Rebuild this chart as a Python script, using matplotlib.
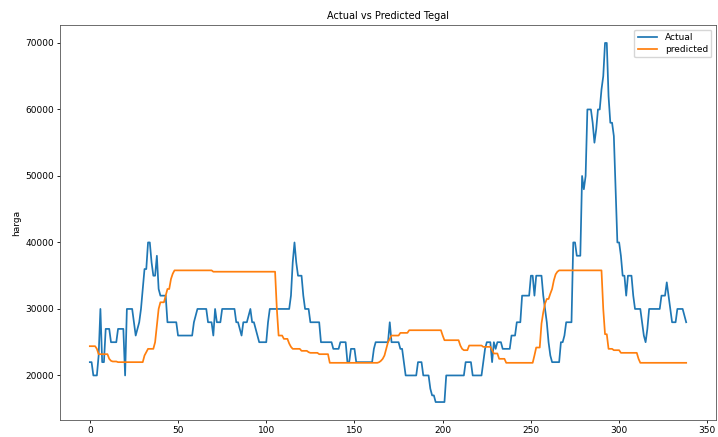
import matplotlib.pyplot as plt
import numpy as np

# Values (daily price, "harga")
actual = [
    22000, 22000, 20000, 20000, 20000, 23000, 30000, 22000, 22000, 27000,
    27000, 27000, 25000, 25000, 25000, 25000, 27000, 27000, 27000, 27000,
    20000, 30000, 30000, 30000, 30000, 28000, 26000, 27000, 28000, 30000,
    33000, 36000, 36000, 40000, 40000, 37000, 35000, 35000, 38000, 33000,
    32000, 32000, 32000, 32000, 28000, 28000, 28000, 28000, 28000, 28000,
    26000, 26000, 26000, 26000, 26000, 26000, 26000, 26000, 26000, 28000,
    29000, 30000, 30000, 30000, 30000, 30000, 30000, 28000, 28000, 28000,
    26000, 30000, 28000, 28000, 28000, 30000, 30000, 30000, 30000, 30000,
    30000, 30000, 30000, 28000, 28000, 27000, 26000, 28000, 28000, 28000,
    29000, 30000, 28000, 28000, 27000, 26000, 25000, 25000, 25000, 25000,
    25000, 28000, 30000, 30000, 30000, 30000, 30000, 30000, 30000, 30000,
    30000, 30000, 30000, 30000, 32000, 37000, 40000, 37000, 35000, 35000,
    35000, 32000, 30000, 30000, 30000, 28000, 28000, 28000, 28000, 28000,
    28000, 25000, 25000, 25000, 25000, 25000, 25000, 25000, 24000, 24000,
    24000, 24000, 25000, 25000, 25000, 25000, 22000, 22000, 24000, 24000,
    24000, 22000, 22000, 22000, 22000, 22000, 22000, 22000, 22000, 22000,
    22000, 24000, 25000, 25000, 25000, 25000, 25000, 25000, 25000, 25000,
    28000, 25000, 25000, 25000, 25000, 25000, 24000, 24000, 22000, 20000,
    20000, 20000, 20000, 20000, 20000, 20000, 22000, 22000, 22000, 20000,
    20000, 20000, 20000, 18000, 17000, 17000, 16000, 16000, 16000, 16000,
    16000, 16000, 20000, 20000, 20000, 20000, 20000, 20000, 20000, 20000,
    20000, 20000, 20000, 22000, 22000, 22000, 22000, 20000, 20000, 20000,
    20000, 20000, 20000, 22000, 24000, 25000, 25000, 25000, 22000, 25000,
    24000, 25000, 25000, 25000, 24000, 24000, 24000, 24000, 24000, 26000,
    26000, 26000, 28000, 28000, 28000, 32000, 32000, 32000, 32000, 32000,
    35000, 35000, 32000, 35000, 35000, 35000, 35000, 32000, 30000, 28000,
    25000, 23000, 22000, 22000, 22000, 22000, 22000, 25000, 25000, 26000,
    28000, 28000, 28000, 28000, 40000, 40000, 38000, 38000, 38000, 50000,
    48000, 50000, 60000, 60000, 60000, 58000, 55000, 57000, 60000, 60000,
    63000, 65000, 70000, 70000, 62000, 58000, 58000, 56000, 48000, 40000,
    40000, 38000, 35000, 35000, 32000, 35000, 35000, 35000, 32000, 30000,
    30000, 30000, 30000, 28000, 26000, 25000, 27000, 30000, 30000, 30000,
    30000, 30000, 30000, 30000, 32000, 32000, 32000, 34000, 32000, 30000,
    28000, 28000, 28000, 30000, 30000, 30000, 30000, 29000, 28000,
]

predicted = [
    24400, 24400, 24400, 24400, 24000, 23200, 23200, 23200, 23200, 23200,
    23200, 22500, 22200, 22100, 22100, 22100, 22000, 22000, 22000, 22000,
    22000, 22000, 22000, 22000, 22000, 22000, 22000, 22000, 22000, 22000,
    22000, 23000, 23500, 24000, 24000, 24000, 24000, 25000, 27500, 30000,
    31000, 31000, 31000, 32000, 33000, 33000, 34500, 35300, 35800, 35800,
    35800, 35800, 35800, 35800, 35800, 35800, 35800, 35800, 35800, 35800,
    35800, 35800, 35800, 35800, 35800, 35800, 35800, 35800, 35800, 35800,
    35600, 35600, 35600, 35600, 35600, 35600, 35600, 35600, 35600, 35600,
    35600, 35600, 35600, 35600, 35600, 35600, 35600, 35600, 35600, 35600,
    35600, 35600, 35600, 35600, 35600, 35600, 35600, 35600, 35600, 35600,
    35600, 35600, 35600, 35600, 35600, 35600, 30000, 26000, 26000, 26000,
    25500, 25500, 25500, 24800, 24300, 24000, 24000, 24000, 24000, 24000,
    23700, 23700, 23700, 23700, 23500, 23400, 23400, 23400, 23400, 23400,
    23200, 23200, 23200, 23200, 23200, 23200, 21900, 21900, 21900, 21900,
    21900, 21900, 21900, 21900, 21900, 21900, 21900, 21900, 21900, 21900,
    21900, 21900, 21900, 21900, 21900, 21900, 21900, 21900, 21900, 21900,
    21900, 21900, 21900, 21900, 22000, 22200, 22500, 23000, 24000, 25000,
    25500, 26000, 26000, 26000, 26000, 26000, 26400, 26400, 26400, 26400,
    26400, 26800, 26800, 26800, 26800, 26800, 26800, 26800, 26800, 26800,
    26800, 26800, 26800, 26800, 26800, 26800, 26800, 26800, 26800, 26800,
    26000, 25300, 25300, 25300, 25300, 25300, 25300, 25300, 25300, 25300,
    24500, 24000, 23800, 23800, 23800, 24500, 24500, 24500, 24500, 24500,
    24500, 24500, 24500, 24300, 24300, 24300, 24300, 24300, 23800, 23300,
    23300, 23300, 22500, 22500, 22500, 22500, 21900, 21900, 21900, 21900,
    21900, 21900, 21900, 21900, 21900, 21900, 21900, 21900, 21900, 21900,
    21900, 21900, 23000, 24200, 24200, 24200, 27800, 29500, 30800, 31500,
    31500, 32300, 33000, 34300, 35200, 35600, 35800, 35800, 35800, 35800,
    35800, 35800, 35800, 35800, 35800, 35800, 35800, 35800, 35800, 35800,
    35800, 35800, 35800, 35800, 35800, 35800, 35800, 35800, 35800, 35800,
    35800, 30000, 26200, 26200, 24000, 24000, 24000, 23800, 23800, 23800,
    23800, 23400, 23400, 23400, 23400, 23400, 23400, 23400, 23400, 23400,
    23400, 22500, 21900, 21900, 21900, 21900, 21900, 21900, 21900, 21900,
    21900, 21900, 21900, 21900, 21900, 21900, 21900, 21900, 21900, 21900,
    21900, 21900, 21900, 21900, 21900, 21900, 21900, 21900, 21900,
]

fs = 6.5
fig = plt.figure(figsize=(7.18, 4.37), dpi=100)
ax = fig.add_axes([60/718, 17/437, 656/718, 395/437])

ax.plot(actual, color='#1f77b4', lw=1.25, label='Actual')
ax.plot(predicted, color='#ff7f0e', lw=1.25, label='predicted')

ax.set_title('Actual vs Predicted Tegal', fontsize=fs + 0.5, pad=4)
ax.set_ylabel('harga', fontsize=fs, labelpad=3)
ax.tick_params(labelsize=fs, length=2.3, width=0.6, pad=2)
for s in ax.spines.values():
    s.set_linewidth(0.6)
    s.set_color('#555555')
ax.legend(loc='upper right', fontsize=fs, handlelength=2.2, borderpad=0.4,
          labelspacing=0.3, framealpha=0.8)

fig.savefig('out.png', dpi=100)
